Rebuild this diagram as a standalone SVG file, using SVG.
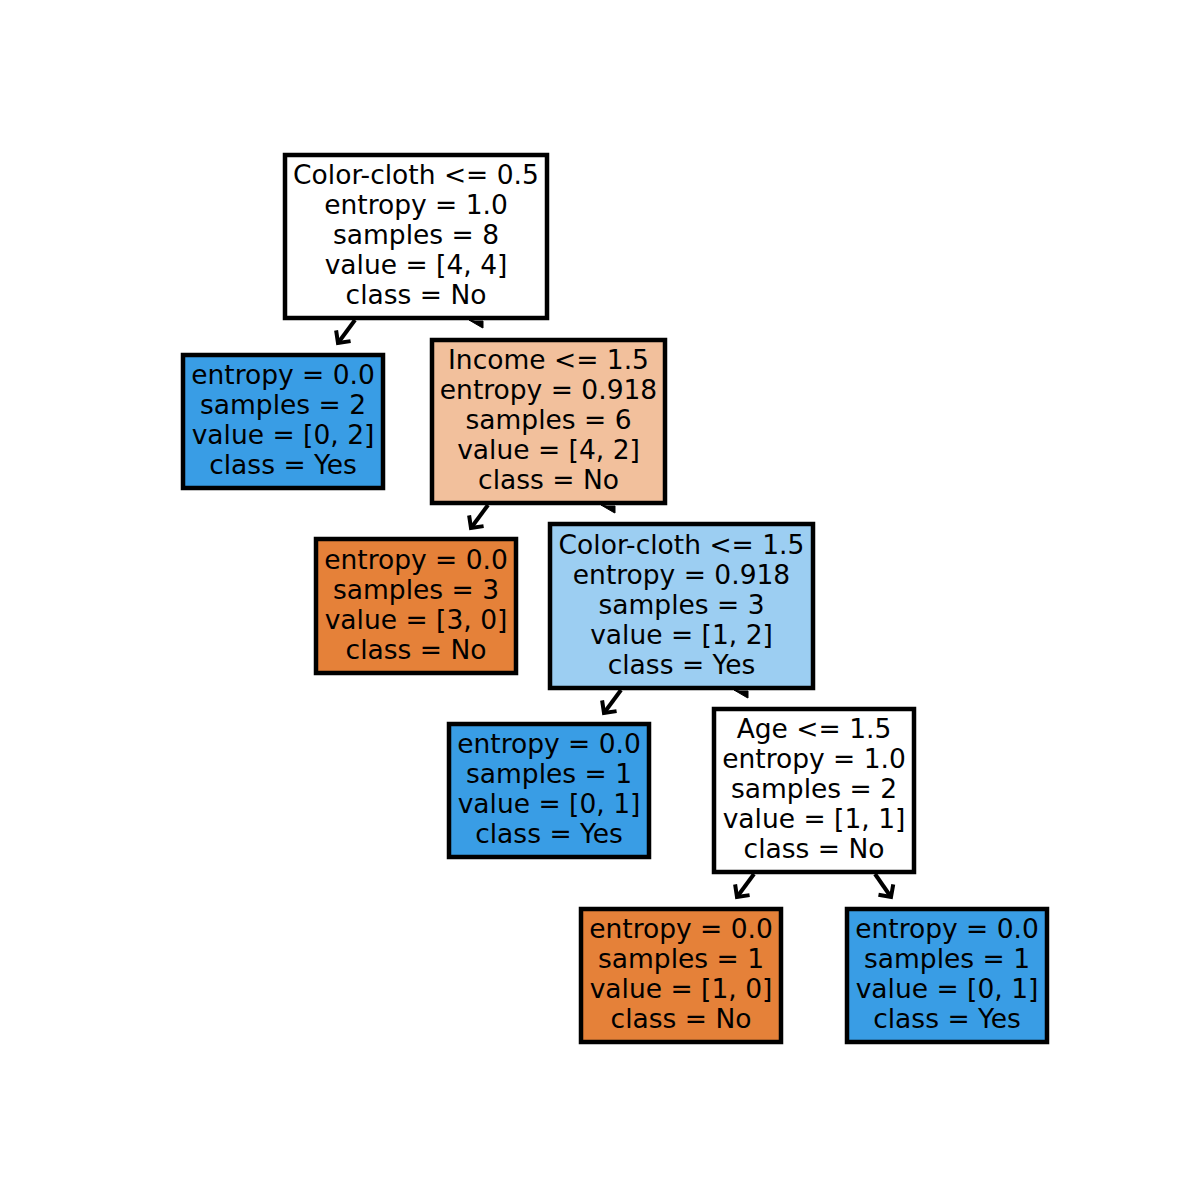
<svg xmlns="http://www.w3.org/2000/svg" width="1200" height="1200" viewBox="0 0 1200 1200">
  <defs>
    <marker id="head" markerUnits="userSpaceOnUse" markerWidth="26" markerHeight="26" refX="13" refY="13" orient="auto" viewBox="0 0 26 26">
      <path d="M4 4 L13 13 L4 22" fill="none" stroke="#000" stroke-width="4" stroke-linejoin="miter"/>
    </marker>
    <style>
      .box { stroke: #000; stroke-width: 4.5; }
      .white { fill: #ffffff; }
      .blue { fill: #399de5; }
      .orange { fill: #e58139; }
      .lorange { fill: #f2c09c; }
      .lblue { fill: #9ccef2; }
      text { font-family: "DejaVu Sans", sans-serif; font-size: 26.5px; fill: #000; text-anchor: middle; }
      .edge { stroke: #000; stroke-width: 4; fill: none; }
      .stub { fill: #000; stroke: #000; stroke-width: 1; }
    </style>
  </defs>
  <rect width="1200" height="1200" fill="#ffffff"/>

  <!-- connectors: drawn first so the boxes sit on top of them -->
  <g id="connectors">
    <line class="edge" x1="355" y1="320" x2="338" y2="343" marker-end="url(#head)"/>
    <path class="stub" d="M469 320 L481 327 L483 328 L483 321 L475 321 Z"/>
    <line class="edge" x1="488" y1="505" x2="471" y2="528" marker-end="url(#head)"/>
    <path class="stub" d="M601 505 L613 512 L615 513 L615 506 L607 506 Z"/>
    <line class="edge" x1="621" y1="690" x2="604" y2="713" marker-end="url(#head)"/>
    <path class="stub" d="M734 690 L746 697 L748 698 L748 691 L740 691 Z"/>
    <line class="edge" x1="754" y1="874" x2="737" y2="897" marker-end="url(#head)"/>
    <line class="edge" x1="875" y1="874" x2="891" y2="897" marker-end="url(#head)"/>
  </g>

  <g id="node-root">
    <rect class="box white" x="285" y="155" width="262" height="163"/>
    <text x="416" y="184">Color-cloth &lt;= 0.5</text>
    <text x="416" y="214">entropy = 1.0</text>
    <text x="416" y="244">samples = 8</text>
    <text x="416" y="274">value = [4, 4]</text>
    <text x="416" y="304">class = No</text>
  </g>

  <g id="node-leaf-1">
    <rect class="box blue" x="183" y="355" width="200" height="133"/>
    <text x="283" y="384">entropy = 0.0</text>
    <text x="283" y="414">samples = 2</text>
    <text x="283" y="444">value = [0, 2]</text>
    <text x="283" y="474">class = Yes</text>
  </g>

  <g id="node-income">
    <rect class="box lorange" x="432" y="340" width="233" height="163"/>
    <text x="548.5" y="369">Income &lt;= 1.5</text>
    <text x="548.5" y="399">entropy = 0.918</text>
    <text x="548.5" y="429">samples = 6</text>
    <text x="548.5" y="459">value = [4, 2]</text>
    <text x="548.5" y="489">class = No</text>
  </g>

  <g id="node-leaf-3">
    <rect class="box orange" x="316" y="539" width="200" height="134"/>
    <text x="416" y="569">entropy = 0.0</text>
    <text x="416" y="599">samples = 3</text>
    <text x="416" y="629">value = [3, 0]</text>
    <text x="416" y="659">class = No</text>
  </g>

  <g id="node-color-cloth-2">
    <rect class="box lblue" x="550" y="524" width="263" height="164"/>
    <text x="681.5" y="554">Color-cloth &lt;= 1.5</text>
    <text x="681.5" y="584">entropy = 0.918</text>
    <text x="681.5" y="614">samples = 3</text>
    <text x="681.5" y="644">value = [1, 2]</text>
    <text x="681.5" y="674">class = Yes</text>
  </g>

  <g id="node-leaf-5">
    <rect class="box blue" x="449" y="724" width="200" height="133"/>
    <text x="549" y="753">entropy = 0.0</text>
    <text x="549" y="783">samples = 1</text>
    <text x="549" y="813">value = [0, 1]</text>
    <text x="549" y="843">class = Yes</text>
  </g>

  <g id="node-age">
    <rect class="box white" x="714" y="709" width="200" height="163"/>
    <text x="814" y="738">Age &lt;= 1.5</text>
    <text x="814" y="768">entropy = 1.0</text>
    <text x="814" y="798">samples = 2</text>
    <text x="814" y="828">value = [1, 1]</text>
    <text x="814" y="858">class = No</text>
  </g>

  <g id="node-leaf-7">
    <rect class="box orange" x="581" y="909" width="200" height="133"/>
    <text x="681" y="938">entropy = 0.0</text>
    <text x="681" y="968">samples = 1</text>
    <text x="681" y="998">value = [1, 0]</text>
    <text x="681" y="1028">class = No</text>
  </g>

  <g id="node-leaf-8">
    <rect class="box blue" x="847" y="909" width="200" height="133"/>
    <text x="947" y="938">entropy = 0.0</text>
    <text x="947" y="968">samples = 1</text>
    <text x="947" y="998">value = [0, 1]</text>
    <text x="947" y="1028">class = Yes</text>
  </g>
</svg>
